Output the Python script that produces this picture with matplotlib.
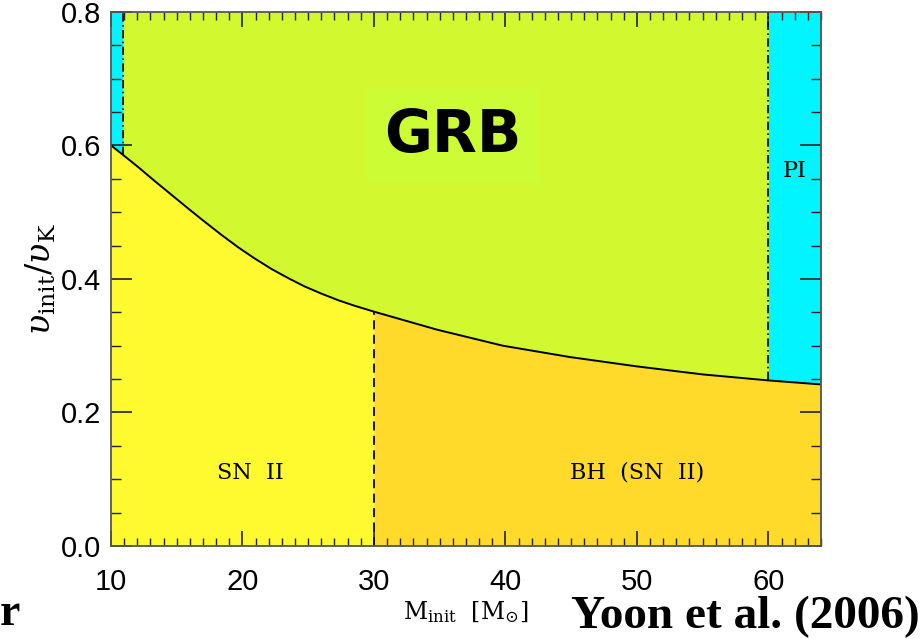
import numpy as np
import matplotlib
matplotlib.use("Agg")
from matplotlib import pyplot as plt
from matplotlib.ticker import MultipleLocator

# boundary: initial mass vs. v_init/v_K
mass = np.array([10, 10.9, 12.1, 13.3, 14.6, 15.9, 17.1, 18.4, 19.7, 20.9,
                 22.2, 23.5, 24.7, 26.0, 27.3, 28.5, 30,
                 34.8, 39.8, 44.9, 50, 55, 60, 64])
v_bound = np.array([0.600, 0.586, 0.567, 0.547, 0.526, 0.505, 0.486, 0.466,
                    0.447, 0.431, 0.415, 0.401, 0.389, 0.378, 0.368, 0.360,
                    0.351, 0.324, 0.300, 0.283, 0.269, 0.257, 0.248, 0.242])

m_low = 10.9   # left dash-dot line
m_bh = 30      # SN II / BH split
m_pi = 60      # pair instability

region_labels = ["SN  II", "BH  (SN  II)", "PI", "GRB"]

c_cyan = "#00f5ff"
c_grb = "#d2f930"
c_sn = "#fff930"
c_bh = "#ffda2a"

plt.rcParams["mathtext.fontset"] = "dejavuserif"

fig = plt.figure(figsize=(9.24, 6.39), dpi=100)
ax = fig.add_axes([0.1201, 0.1455, 0.7684, 0.836])

sn = mass <= m_bh
bh = mass >= m_bh
grb = (mass >= m_low) & (mass <= m_pi)
lo = mass <= m_low
pi = mass >= m_pi

ax.fill_between(mass[sn], 0, v_bound[sn], color=c_sn, lw=0)
ax.fill_between(mass[bh], 0, v_bound[bh], color=c_bh, lw=0)
ax.fill_between(mass[grb], v_bound[grb], 0.8, color=c_grb, lw=0)
ax.fill_between(mass[lo], v_bound[lo], 0.8, color=c_cyan, lw=0)
ax.fill_between(mass[pi], v_bound[pi], 0.8, color=c_cyan, lw=0)

ax.plot(mass, v_bound, color="black", lw=1.4, solid_joinstyle="round")
ax.plot([m_bh, m_bh], [0, v_bound[mass == m_bh][0]], color="black",
        lw=1.3, ls=(0, (5, 3)))
ax.plot([m_low, m_low], [v_bound[mass == m_low][0], 0.8], color="black",
        lw=1.2, ls=(0, (5, 2, 1, 2)))
ax.plot([m_pi, m_pi], [v_bound[mass == m_pi][0], 0.8], color="black",
        lw=1.2, ls=(0, (5, 2, 1, 2)))

ax.set_xlim(10, 64)
ax.set_ylim(0, 0.8)

ax.xaxis.set_major_locator(MultipleLocator(10))
ax.xaxis.set_minor_locator(MultipleLocator(1))
ax.yaxis.set_major_locator(MultipleLocator(0.2))
ax.yaxis.set_minor_locator(MultipleLocator(0.05))
ax.yaxis.set_major_formatter(plt.FormatStrFormatter("%.1f"))

ax.tick_params(axis="both", which="both", direction="in", top=True,
               right=True, color="#222222")
ax.tick_params(axis="x", which="major", length=11, width=1.2, pad=16)
ax.tick_params(axis="x", which="minor", length=6, width=1.0)
ax.tick_params(axis="y", which="major", length=15, width=1.2, pad=7)
ax.tick_params(axis="y", which="minor", length=7.5, width=1.0)
for lab in ax.get_xticklabels() + ax.get_yticklabels():
    lab.set_family("Liberation Sans")
    lab.set_fontsize(21)
for sp in ax.spines.values():
    sp.set_color("#555555")
    sp.set_linewidth(1.3)

ax.set_xlabel(r"$\mathrm{M_{init}\ \ [M_{\odot}]}$", fontsize=17, labelpad=2)
ax.set_ylabel(r"$\upsilon_{\rm init}/\upsilon_{\rm K}$", fontsize=24,
              labelpad=2)

ax.text(20.6, 0.11, region_labels[0], fontsize=16, family="DejaVu Serif",
        ha="center", va="center")
ax.text(50.0, 0.11, region_labels[1], fontsize=16, family="DejaVu Serif",
        ha="center", va="center")
ax.text(62.0, 0.561, region_labels[2], fontsize=16, family="DejaVu Serif",
        ha="center", va="center")
ax.text(36.0, 0.615, region_labels[3], fontsize=42, fontweight="bold",
        family="DejaVu Sans", ha="center", va="center",
        bbox=dict(facecolor="#ccfc33", edgecolor="none", pad=13))

fig.text(0.995, 1 - 628 / 639, "Yoon et al. (2006)", fontsize=34,
         fontweight="bold", family="Liberation Serif", ha="right",
         va="baseline")
fig.text(0.0, 1 - 625 / 639, "r", fontsize=33, fontweight="bold",
         family="Liberation Serif", ha="left", va="baseline")

fig.savefig("out.png", dpi=100)
